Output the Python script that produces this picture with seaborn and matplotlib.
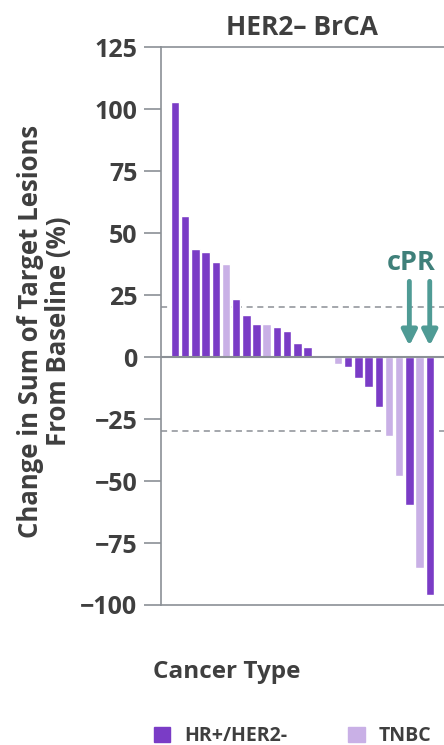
import pandas as pd
import seaborn as sns
import matplotlib.pyplot as plt
from matplotlib.patches import Patch

# Values (left to right)
change_pct = [103, 57, 43.5, 42.5, 38.5, 37.5, 23.5, 17, 13.5, 13.5, 12, 10.5, 5.5, 4,
              0, 0, -2.8, -4, -8.5, -12, -20, -32, -48, -59.5, -85, -96]
cancer_type = ['HR+/HER2-', 'HR+/HER2-', 'HR+/HER2-', 'HR+/HER2-', 'HR+/HER2-', 'TNBC',
               'HR+/HER2-', 'HR+/HER2-', 'HR+/HER2-', 'TNBC', 'HR+/HER2-', 'HR+/HER2-',
               'HR+/HER2-', 'HR+/HER2-', 'HR+/HER2-', 'HR+/HER2-', 'TNBC', 'HR+/HER2-',
               'HR+/HER2-', 'HR+/HER2-', 'HR+/HER2-', 'TNBC', 'TNBC', 'HR+/HER2-',
               'TNBC', 'HR+/HER2-']
cpr_patients = [23, 25]
type_labels = ['HR+/HER2-', 'TNBC']
y_ticks = [125, 100, 75, 50, 25, 0, -25, -50, -75, -100]
ref_lines = [20, -30]

colors = {'HR+/HER2-': '#7a3cc6', 'TNBC': '#c9b0e6'}
text_color = '#3f3f3f'
grey = '#8b9096'
teal = '#4f9b95'

df = pd.DataFrame({'patient': range(len(change_pct)), 'change': change_pct, 'type': cancer_type})

sns.set_style('white')
plt.rcParams['font.family'] = ['Open Sans', 'DejaVu Sans']

fig = plt.figure(figsize=(4.44, 7.45), dpi=100)
ax = fig.add_axes([161 / 444, 1 - 605 / 745, 1 - 161 / 444, (605 - 47) / 745])

sns.barplot(data=df, x='patient', y='change', hue='type', dodge=False, width=0.83,
            palette=colors, hue_order=type_labels, legend=False, ax=ax, saturation=1)

ax.set_xlim(-1.375, 26.4)
ax.set_ylim(-100, 125)
ax.set_yticks(y_ticks)
ax.set_xticks([])
ax.tick_params(axis='y', length=12, width=1.2, color=grey, pad=5, labelsize=18,
               labelcolor=text_color, left=True)
for lbl in ax.get_yticklabels():
    lbl.set_fontweight('bold')

for s in ['left', 'top', 'bottom']:
    ax.spines[s].set_color(grey)
    ax.spines[s].set_linewidth(1.2)
ax.spines['right'].set_visible(False)

ax.axhline(0, color=grey, lw=1.5, zorder=3)
for y in ref_lines:
    ax.axhline(y, color=grey, lw=1.1, ls=(0, (4, 3)), zorder=0)

ax.set_title('HER2\u2013 BrCA', fontsize=19, fontweight='bold', color=text_color, pad=9)
ax.set_xlabel('')
ax.set_ylabel('Change in Sum of Target Lesions\nFrom Baseline (%)', fontsize=18.5,
              fontweight='bold', color=text_color, linespacing=1.05)
ax.yaxis.set_label_coords(-0.316, 0.49)

# cPR arrows
for p in cpr_patients:
    ax.annotate('', xy=(p, 4.5), xytext=(p, 30.5),
                arrowprops=dict(arrowstyle='-|>,head_length=0.9,head_width=0.45',
                                color=teal, lw=3.5, shrinkA=0, shrinkB=0))
ax.text(cpr_patients[0] + 0.15, 38, 'cPR', ha='center', va='center', fontsize=19.5,
        fontweight='bold', color='#3f807a')

fig.text(153 / 444, 1 - 672 / 745, 'Cancer Type', ha='left', va='center', fontsize=17.5,
         fontweight='bold', color=text_color)

handles = [Patch(color=colors[t]) for t in type_labels]
fig.legend(handles, type_labels, ncol=2, loc='center left',
           bbox_to_anchor=(136 / 444, 1 - 736 / 745), frameon=False,
           handlelength=0.85, handleheight=0.85, handletextpad=0.75, columnspacing=3.1,
           prop={'size': 14, 'weight': 'bold'}, labelcolor=text_color)

fig.savefig('out.png', dpi=100)
